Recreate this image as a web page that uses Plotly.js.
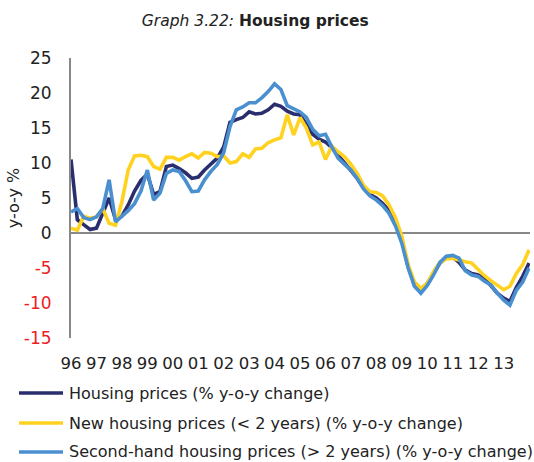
<!DOCTYPE html>
<html>
<head>
<meta charset="utf-8">
<script src="https://cdn.plot.ly/plotly-3.0.1.min.js"></script>
<style>html,body{margin:0;padding:0;background:#fff;}#chart{width:534px;height:462px;}</style>
</head>
<body>
<div id="chart"></div>
<script>
// Quarterly y-o-y % changes, 1996Q1 .. 2014Q1
const startYear = 1996;
const housing = [10.5, 1.9, 1.2, 0.5, 0.7, 2.9, 5.0, 1.9, 2.4, 4.0, 6.0, 7.5, 8.4, 5.5, 5.9, 9.5,
  9.7, 9.2, 8.6, 7.8, 8.0, 9.0, 9.8, 10.7, 12.3, 15.8, 16.2, 16.5, 17.3, 17.0, 17.1, 17.6,
  18.4, 18.1, 17.4, 17.0, 16.9, 15.5, 14.1, 13.4, 13.0, 12.2, 11.0, 10.0, 8.9, 7.8, 6.4, 5.5,
  5.0, 4.2, 3.2, 1.8, -1.0, -4.8, -7.5, -8.4, -7.2, -5.8, -4.3, -3.5, -3.4, -4.2, -5.3, -5.8,
  -6.0, -6.6, -7.5, -8.6, -9.3, -9.8, -7.8, -6.2, -4.3];
const newHousing = [0.7, 0.4, 2.4, 2.1, 2.3, 3.5, 1.4, 1.1, 4.5, 9.0, 11.0, 11.1, 10.9, 9.5, 9.1, 10.8,
  10.8, 10.4, 10.9, 11.3, 10.7, 11.5, 11.4, 10.9, 11.0, 10.0, 10.2, 11.3, 10.8, 12.0, 12.1, 12.9,
  13.3, 13.6, 16.9, 14.0, 16.5, 15.0, 12.6, 13.0, 10.5, 12.4, 11.6, 10.9, 9.8, 8.5, 6.8, 5.9,
  5.8, 5.3, 4.0, 2.2, -0.5, -4.5, -7.0, -7.9, -7.2, -5.5, -4.2, -3.7, -3.6, -3.9, -4.1, -4.3,
  -5.2, -6.1, -6.8, -7.5, -8.1, -7.6, -5.8, -4.5, -2.4];
const secondHand = [3.0, 3.5, 2.2, 1.9, 2.3, 3.5, 7.6, 1.6, 2.4, 3.2, 4.2, 6.0, 9.0, 4.7, 5.7, 8.5,
  9.0, 8.8, 7.5, 5.9, 6.0, 7.6, 8.8, 9.8, 11.5, 15.2, 17.6, 18.0, 18.6, 18.6, 19.3, 20.2,
  21.3, 20.5, 18.2, 17.8, 17.3, 16.5, 14.8, 13.9, 14.1, 12.3, 10.7, 9.8, 9.0, 7.8, 6.3, 5.3,
  4.7, 3.9, 2.8, 1.0, -1.5, -5.0, -7.6, -8.6, -7.5, -6.0, -4.2, -3.3, -3.2, -3.6, -5.4, -6.0,
  -6.2, -6.9, -7.4, -8.6, -9.6, -10.3, -8.2, -7.0, -5.0];
const seriesNames = ['Housing prices (% y-o-y change)',
  'New housing prices (< 2 years) (% y-o-y change)',
  'Second-hand housing prices (> 2 years) (% y-o-y change)'];
const seriesColors = ['#2b2e6e', '#ffd21f', '#4a90d0'];
const xTickYears = [1996,1997,1998,1999,2000,2001,2002,2003,2004,2005,2006,2007,2008,2009,2010,2011,2012,2013];
const xTickLabels = ['96','97','98','99','00','01','02','03','04','05','06','07','08','09','10','11','12','13'];
const yTickVals = [-15, -10, -5, 0, 5, 10, 15, 20, 25];
const yTickLabels = ['-15', '-10', '-5', '0', '5', '10', '15', '20', '25'];

const quarters = housing.map((_, i) => {
  const y = startYear + Math.floor(i / 4);
  const m = 1 + 3 * (i % 4);
  return y + '-' + String(m).padStart(2, '0') + '-01';
});

const W = 534, H = 462;
const M = {l: 71, r: 4, t: 58, b: 124};
const font = 'DejaVu Sans, Liberation Sans, Arial, sans-serif';
const traces = [housing, newHousing, secondHand].map((vals, k) => ({
  x: quarters, y: vals, type: 'scatter', mode: 'lines',
  name: seriesNames[k],
  line: {color: seriesColors[k], width: 3.6},
  hoverinfo: 'skip'
}));

const yText = yTickVals.map((v, i) => v < 0 ? '<span style="color:#ee1c25">' + yTickLabels[i] + '</span>' : yTickLabels[i]);

// legend drawn below the plot (pixel layout -> paper fractions)
const pw = W - M.l - M.r, ph = H - M.t - M.b;
const px = x => (x - M.l) / pw;
const py = y => (H - M.b - y) / ph;
const legendRowY = [393, 423, 452];
const legendShapes = seriesNames.map((n, k) => ({
  type: 'line', xref: 'paper', yref: 'paper',
  x0: px(19), x1: px(63), y0: py(legendRowY[k]), y1: py(legendRowY[k]),
  line: {color: seriesColors[k], width: 3.6}
}));
const legendTexts = seriesNames.map((n, k) => ({
  text: n, xref: 'paper', yref: 'paper', x: px(67), y: py(legendRowY[k]),
  xanchor: 'left', yanchor: 'middle', showarrow: false,
  font: {family: font, size: 16, color: '#222'}
}));

const layout = {
  width: W, height: H,
  margin: M,
  paper_bgcolor: '#fff', plot_bgcolor: '#fff',
  font: {family: font, color: '#222', size: 16},
  title: {text: '<i>Graph 3.22:</i> <b>Housing prices</b>', font: {family: font, size: 15.5, color: '#222'},
    x: 0.478, xref: 'container', xanchor: 'center', y: 0.955, yref: 'container', yanchor: 'middle'},
  xaxis: {
    type: 'date', range: ['1996-01-01', '2014-01-14'],
    tickmode: 'array', tickvals: xTickYears.map(y => y + '-01-01'), ticktext: xTickLabels,
    showgrid: false, zeroline: false, showline: false, ticks: '',
    ticklabelstandoff: 13, tickfont: {size: 16.5, color: '#222'}, fixedrange: true
  },
  yaxis: {
    range: [-15, 25], tickmode: 'array', tickvals: yTickVals, ticktext: yText,
    showgrid: false, zeroline: true, zerolinecolor: '#888', zerolinewidth: 2,
    showline: true, linecolor: '#888', linewidth: 2, ticks: '',
    ticklabelstandoff: 14, tickfont: {size: 17, color: '#222'},
    title: {text: 'y-o-y %', font: {size: 16, color: '#222'}, standoff: 0},
    fixedrange: true
  },
  showlegend: false,
  shapes: legendShapes,
  annotations: legendTexts
};

Plotly.newPlot('chart', traces, layout, {displayModeBar: false, staticPlot: true});
</script>
</body>
</html>
